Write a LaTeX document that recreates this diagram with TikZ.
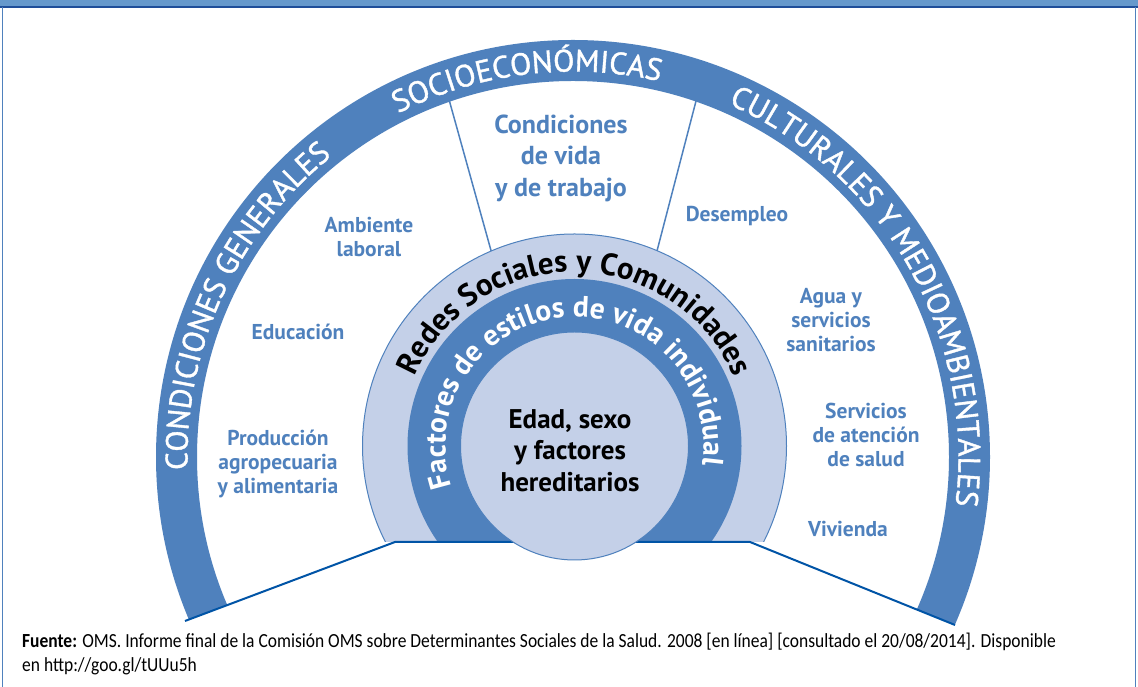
\documentclass[tikz,border=0pt]{standalone}
\usepackage{fontspec}
\setmainfont{PT Sans}
\newfontfamily\ringfont[FakeBold=1.2]{PT Sans}
\newfontfamily\footfont[FakeStretch=0.874]{Carlito}
\usetikzlibrary{decorations.text}
\definecolor{ringblue}{RGB}{79,129,189}
\definecolor{lightfill}{RGB}{196,208,232}
\definecolor{linedark}{RGB}{0,84,166}
\definecolor{labelblue}{RGB}{79,129,189}
\definecolor{topband}{RGB}{102,153,204}
\definecolor{framedark}{RGB}{31,78,153}
\tikzset{
  lbl/.style={font=\bfseries\fontsize{21.5}{24}\selectfont, text=labelblue, align=center, inner sep=0pt},
  biglbl/.style={font=\bfseries\fontsize{26}{31.5}\selectfont, text=labelblue, align=center, inner sep=0pt},
  corelbl/.style={font=\bfseries\fontsize{27}{31.3}\selectfont, text=black, align=center, inner sep=0pt},
  radial/.style={draw=ringblue, line width=1.5pt},
  baseline/.style={draw=linedark, line width=2pt},
}
\begin{document}
\begin{tikzpicture}[x=1pt,y=1pt]
\useasboundingbox (0,0) rectangle (1138,687);
\fill[white] (0,0) rectangle (1138,687);
% frame
\fill[topband] (0,680) rectangle (1138,687);
\draw[framedark, line width=1.3pt] (0,680) -- (1138,680);
\draw[ringblue, line width=1pt] (2.5,680) -- (2.5,0);
\draw[ringblue, line width=1pt] (1135.5,680) -- (1135.5,0);

\coordinate (C1) at (574.5,241);
\coordinate (C2) at (573,230);

% radial separators
\coordinate (l1a) at (447.3,593.6);
\coordinate (l1b) at (492.7,430.4);
\coordinate (l2a) at (697.5,591.7);
\coordinate (l2b) at (655.5,430.3);
\draw[radial] (l1a) -- (l1b);
\draw[radial] (l2a) -- (l2b);

% outer ring
\begin{scope}
\clip (100,34) -- (395,145) -- (750,145) -- (1050,23.5) -- (1050,687) -- (100,687) -- cycle;
\fill[ringblue, even odd rule] (C2) circle[radius=417] (C2) circle[radius=376];
\end{scope}

% inner bands
\begin{scope}
\clip (0,145) rectangle (1138,687);
\filldraw[fill=lightfill, draw=ringblue, line width=1pt] (C1) circle[radius=212];
\fill[ringblue] (C1) circle[radius=167];
\end{scope}

% base polyline
\coordinate (b1) at (185,66);
\coordinate (b2) at (395,145);
\coordinate (b3) at (750,145);
\coordinate (b4) at (955,62);
\draw[baseline] (b1) -- (b2) -- (b3) -- (b4);

% core circle
\filldraw[fill=lightfill, draw=ringblue, line width=1pt] (C1) circle[radius=114];

% arc texts
\path[decorate, decoration={text along path, text align=center,
  text={|\bfseries\fontsize{31}{31}\selectfont|Redes Sociales y Comunidades}}]
  (C1) ++(175:174) arc[start angle=175, end angle=5, radius=174];
\path[decorate, decoration={text along path, text align=center, text color=white,
  text={|\bfseries\fontsize{29.5}{29.5}\selectfont|Factores de estilos de vida individual}}]
  (C1) ++(205:129) arc[start angle=205, end angle=-15, radius=129];
\path[decorate, decoration={text along path, text align=center, text color=white,
  text={|\ringfont\fontsize{31}{31}\selectfont|CONDICIONES GENERALES}}]
  (C2) ++(195.3:385.5) arc[start angle=195.3, end angle=115.3, radius=385.5];
\path[decorate, decoration={text along path, text align=center, text color=white,
  text={|\ringfont\fontsize{31}{31}\selectfont|SOCIOECONÓMICAS}}]
  (C2) ++(127:385.5) arc[start angle=127, end angle=67, radius=385.5];
\path[decorate, decoration={text along path, text align=center, text color=white,
  text={|\ringfont\fontsize{31}{31}\selectfont|CULTURALES Y MEDIOAMBIENTALES}}]
  (C2) ++(79.5:385.5) arc[start angle=79.5, end angle=-20.5, radius=385.5];

% labels
\node[biglbl] (cond) at (561,529) {Condiciones\\de vida\\y de trabajo};
\node[lbl] (amb) at (369,450) {Ambiente\\laboral};
\node[lbl] (edu) at (298,355) {Educación};
\node[lbl] (prod) at (278,223) {Producción\\agropecuaria\\y alimentaria};
\node[lbl] (des) at (737,471) {Desempleo};
\node[lbl] (agua) at (831,367) {Agua y\\servicios\\sanitarios};
\node[lbl] (serv) at (866,252) {Servicios\\de atención\\de salud};
\node[lbl] (viv) at (848,158) {Vivienda};
\node[corelbl] (edad) at (570,236.3) {Edad, sexo\\y factores\\hereditarios};

% source
\node[anchor=base west, align=left, inner sep=0pt, font=\footfont\fontsize{20}{24}\selectfont] (fuente) at (22,15)
  {{\bfseries Fuente:} OMS. Informe final de la Comisión OMS sobre Determinantes Sociales de la Salud. 2008 [en línea] [consultado el 20/08/2014]. Disponible\\en http://goo.gl/tUUu5h};
\end{tikzpicture}
\end{document}
